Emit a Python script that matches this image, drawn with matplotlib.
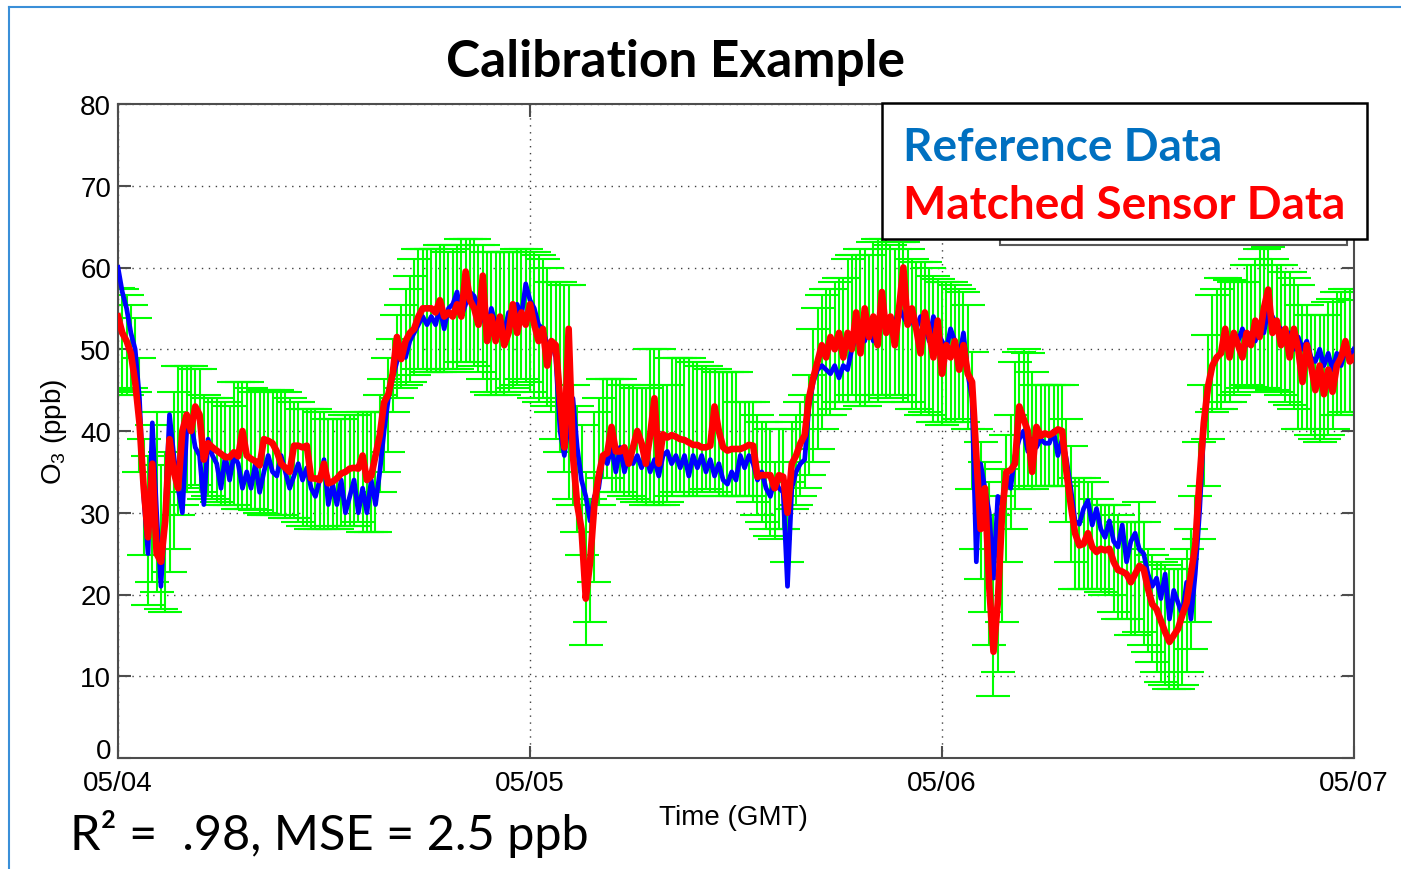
import numpy as np
import matplotlib
matplotlib.use('Agg')
import matplotlib.pyplot as plt
from matplotlib.patches import Rectangle
from matplotlib.lines import Line2D

# 15-minute samples, 05/04 00:00 -> 05/07 00:00 (GMT), in hours
hours = np.arange(0, 72.01, 0.25)
day_ticks = [0, 24, 48, 72]
day_labels = ['05/04', '05/05', '05/06', '05/07']

# reference O3 (ppb)
ref_o3 = [60, 57, 55, 52, 50, 44, 32, 25, 41, 30, 21, 30,
          42, 37, 33, 30, 40, 41, 38, 37, 31, 39, 37, 36,
          33, 37, 34, 37, 36, 33, 35, 33, 36, 32.5, 35, 37,
          35, 34.5, 37, 35, 33, 34.5, 36, 34, 35.5, 33, 32, 34,
          36.5, 31, 33.5, 31, 34, 30, 32, 34, 30, 33, 30, 34,
          31, 35, 40, 44, 46.5, 48.5, 50, 49, 51, 52, 53, 54,
          53, 54, 53, 55, 52.5, 55, 55.5, 57, 54, 55.5, 57, 56.5,
          55, 54, 52.5, 55, 53, 54, 52, 54.5, 53, 55.5, 54, 58,
          56, 55, 53, 52.5, 50.5, 51, 49, 40, 37, 41, 44, 38,
          34, 32, 29, 32, 33, 37, 36, 38, 35, 38, 35, 37,
          36, 37, 35.5, 37, 35, 36.5, 34.5, 37, 37.5, 36, 37, 35.5,
          37, 34.5, 37, 35.5, 37, 35, 36.5, 34.5, 36, 34, 33.5, 35,
          34, 37, 35.5, 37, 36, 34, 35, 33, 32, 34, 33, 32.5,
          21, 33, 35, 36, 36.5, 43, 46, 47.5, 48, 47.5, 47, 48,
          46.5, 48, 47.5, 50, 51.5, 53, 51, 53, 51, 53.5, 55, 52,
          54, 53, 55, 54, 53, 53.5, 52.5, 54, 53, 51, 54, 52,
          51, 50, 52.5, 51, 49, 52, 47, 44, 24, 36, 33, 30,
          22, 32, 31, 35, 33, 37, 39, 40, 37.5, 39, 38, 39,
          38.5, 38.5, 40, 37, 39, 36.5, 33, 29, 28.6, 30.5, 31.5, 28.5,
          30.5, 28, 27, 29, 26.5, 25.8, 28.5, 24, 26.5, 27.5, 25.5, 25,
          22.5, 21, 22, 19.5, 22.5, 17, 20.5, 19, 17.5, 21.5, 17, 22.5,
          30, 40, 45, 48, 49, 49.5, 51, 50, 52, 51, 52.5, 50.5,
          52, 51, 53, 52, 55, 54, 53, 52.5, 51, 52, 50, 51.5,
          50, 51, 49, 48.5, 50, 48, 49.5, 47.5, 49.5, 48, 50, 48.5,
          50]

# matched sensor O3 (ppb)
sensor_o3 = [54, 52, 51, 49.5, 46, 41, 33, 27, 36, 25, 24, 29,
             39, 35, 33, 40, 42, 40, 43, 42, 36.5, 38.5, 38, 37.6,
             37.2, 36.8, 36.8, 37.4, 36.9, 40, 37, 36.6, 36.3, 35.8, 39, 38.8,
             38.5, 37.5, 36, 35.5, 35, 38.2, 38.2, 38, 38.2, 34.2, 34.2, 34,
             36, 33.6, 33.8, 34.2, 34.8, 35, 35.4, 35.5, 35.4, 37, 34, 34.5,
             37, 39.5, 43.5, 44.5, 47, 51.5, 48.8, 51, 52, 52.5, 54, 55,
             55, 55, 54.5, 56, 54, 54.5, 54, 55.5, 54, 59.5, 56, 55,
             53, 59, 51, 54, 51, 54, 50.5, 52, 55.5, 52, 54.5, 53,
             55.5, 53, 51, 52.5, 48, 51, 50.5, 44, 38, 52.5, 37, 31,
             28, 19.5, 24, 31, 34.5, 37, 37.3, 40.5, 37.5, 37.5, 38, 36,
             38, 40, 38.5, 36, 39.5, 44, 36, 39.6, 39.2, 39.5, 39.3, 39,
             38.9, 38.6, 38.3, 38.3, 38, 38, 38.2, 43, 40, 38, 37.6, 37.8,
             37.8, 37.8, 38, 38.3, 38.2, 34.4, 34.6, 34.6, 34.6, 33, 34.6, 34.4,
             30, 36, 37, 38.5, 39.5, 44, 46.5, 48.5, 50.5, 49, 51.5, 50,
             52, 49, 52, 50, 54.5, 49.5, 55, 51.5, 54, 50.5, 57, 52,
             54, 50.5, 55, 60, 53, 55, 52.5, 49.5, 54.5, 52, 49, 53.5,
             47, 50.5, 49, 51, 47.5, 50.5, 47, 46, 37, 28, 33, 21,
             13, 19, 30, 35, 35.2, 36, 43, 41.5, 40, 35, 40.5, 39.4,
             39.7, 39.5, 39.8, 40.2, 40, 35, 31, 27.5, 26, 26.2, 27.5, 25.8,
             25.2, 25.6, 25.4, 25.6, 24, 23, 22.8, 22.5, 21.5, 22.5, 23.5, 23.1,
             20.7, 18.8, 18.2, 16.8, 15.4, 14.2, 15, 15.8, 17.5, 19, 22.5, 26,
             34, 41, 45.5, 48, 49, 49.5, 52.5, 49, 52, 50.5, 49, 52,
             50.5, 53.5, 51.5, 55, 57.3, 52, 53.5, 50.5, 52.5, 49, 52.5, 50,
             46, 50.5, 48, 45, 48, 44.5, 47.5, 44.8, 48, 49, 51, 48.5,
             49]

# bottom / top of each sensor error bar (ppb)
band_low = [45, 44.4, 44.4, 45.2, 44.8, 35, 24.8, 18.7, 21.5, 20.3, 18.2, 17.8,
            22.7, 25.6, 29.7, 30.9, 32.5, 33, 33.4, 32.5, 31.7, 32, 31.7, 31.3,
            30.9, 30.9, 30.9, 30.9, 30.5, 30.5, 30.5, 30.5, 30.3, 30, 29.7, 29.7,
            29.7, 29.7, 29.7, 29.3, 29.3, 29.3, 28.9, 28.4, 28.4, 28, 28, 28,
            28, 28, 28, 28, 28.4, 28.4, 28.4, 28.4, 28.9, 27.6, 27.6, 27.6,
            27.6, 32.5, 35, 37.4, 42.3, 44, 45.2, 45.6, 46, 46.8, 47.6, 47.6,
            47.2, 47.2, 47.2, 47.2, 47.2, 47.6, 47.6, 47.6, 48.4, 48.4, 48.4, 48,
            47.2, 46.4, 44.8, 44.4, 44.4, 44.8, 44.4, 44.8, 45.2, 45.6, 46.4, 46,
            44.8, 44, 43.6, 44, 43.1, 42.3, 39, 37.4, 35, 31.7, 30.9, 27.6,
            24.8, 13.8, 16.6, 21.5, 30.9, 34.2, 34.2, 32.5, 32.5, 32.5, 32.1, 32.1,
            31.7, 31.3, 31.3, 30.9, 31.3, 30.9, 30.9, 30.9, 31.3, 32.1, 32.5, 32.5,
            32.1, 32.1, 32.1, 32.1, 32.5, 32.9, 32.5, 32.5, 32.1, 32.1, 32.1, 32.1,
            32.1, 32.1, 32.1, 32.1, 31.3, 29.7, 28.9, 28, 27.2, 26.8, 28, 28,
            24, 30.5, 30.9, 32, 33, 34.6, 36.2, 37.8, 40.3, 41.9, 41.9, 42.7,
            43.6, 43.6, 43.6, 44.4, 43.6, 43.1, 43.1, 43.6, 44.4, 43.6, 44.4, 44,
            44, 44.4, 44.4, 43.6, 43.6, 42.7, 42.7, 41.9, 42.3, 41.9, 41.1, 41.1,
            40.7, 41.1, 41.1, 41.1, 41.5, 41.1, 40.3, 32.9, 25.6, 21.9, 17.8, 13.8,
            7.6, 10.5, 16.6, 24, 28, 30.5, 32.9, 32.9, 33.3, 32.9, 33.3, 33.3,
            33.3, 33.3, 33.3, 33.3, 33.3, 28.9, 24, 20.7, 20.7, 20.7, 20.7, 20.7,
            20.7, 20.3, 19.9, 19.9, 17.8, 17, 17, 17, 15, 15, 15.4, 13.8,
            13, 11.7, 10.5, 9.3, 8.9, 8.5, 8.5, 8.5, 8.9, 10.5, 13.3, 16.6,
            26.8, 33.3, 39, 42.3, 42.7, 42.7, 43.6, 43.6, 44.4, 44.8, 45.2, 45.6,
            45.4, 45.2, 45.2, 45.2, 44.8, 45, 44.8, 44.4, 43.6, 43.2, 42.7, 40.3,
            40.3, 40.3, 39.5, 39, 38.7, 39, 39.5, 40.3, 41.9, 41.9, 42.3, 42.3,
            42.3]
band_high = [57.5, 57.4, 56.6, 55.4, 53.8, 48.9, 39, 37, 40.7, 42.3, 35.8, 37.4,
             42.3, 44.8, 48, 48, 48, 48, 47.6, 47.6, 44.4, 44, 44, 44,
             43.5, 43.5, 43.1, 46, 46, 46, 46, 45.2, 44.8, 44.8, 45, 45,
             45, 45, 44.8, 44.8, 44, 43.5, 43.5, 42.7, 42.7, 42.7, 42.7, 42.3,
             42.3, 41.5, 41.5, 41.5, 41.5, 41.9, 41.9, 41.9, 42.3, 42.3, 42.3, 42.3,
             42.3, 44.4, 46.4, 48.9, 51.3, 54.2, 55.4, 57.4, 59, 61, 62.3, 62.3,
             62.3, 62.3, 62.3, 62.7, 62.7, 61.9, 62.3, 62.7, 63.5, 63.5, 63.5, 63.5,
             62.7, 62.7, 61.9, 61.9, 61.9, 61.9, 61.9, 61.9, 61.9, 62.3, 62.3, 62.3,
             61.9, 61.9, 61.5, 61.1, 59.9, 58.2, 58.2, 58.2, 57.8, 57.8, 45.6, 43.1,
             40.7, 35, 31.7, 42.3, 44, 46.4, 46.4, 46.4, 46.4, 46.4, 45.6, 45.6,
             45.6, 45.2, 45.2, 45.2, 50, 50, 50, 45.6, 45.6, 48.9, 48.9, 48.9,
             48.9, 48.9, 48.5, 48.5, 48, 48, 47.6, 47.6, 47.2, 47.2, 47.2, 47.2,
             47.2, 43.6, 43.6, 43.6, 43.6, 41.9, 41.1, 41.1, 40.3, 36.2, 40.3, 40.3,
             33.8, 41.1, 41.9, 43.6, 44.4, 46.8, 52.5, 55, 56.6, 57.4, 57.4, 58.2,
             58.7, 58.7, 61.1, 61.5, 61.5, 62.3, 62.3, 61.5, 63.1, 63.5, 63.5, 63.5,
             62.7, 62.3, 63.1, 63.1, 62.3, 61.1, 60.7, 60.7, 60.7, 59.9, 59, 58.6,
             58.2, 58.2, 58.2, 57.8, 57.4, 57, 55.4, 49.7, 40.3, 38.7, 36.2, 33.8,
             29.7, 32.1, 35.4, 39.5, 41.9, 48.4, 49.7, 50, 49.5, 47.2, 45.6, 45.6,
             45.6, 45.6, 45.6, 45.6, 45.6, 41.5, 38.2, 34.2, 34.2, 34.2, 33.8, 33.8,
             31.7, 30.9, 30.9, 30.9, 30.9, 29.7, 28.9, 28.9, 28.9, 28.9, 31.3, 28.9,
             25.6, 24.8, 24, 24, 23.6, 23.1, 23.1, 23.1, 24.4, 25.6, 28, 32.1,
             38.7, 45.6, 51.7, 56.6, 57.4, 58.7, 58.7, 58.5, 58.2, 58.2, 58.2, 60.3,
             60.3, 61.1, 62.3, 62.3, 62.5, 61.1, 60.3, 60.3, 59.5, 59.5, 58.7, 57.8,
             55.4, 55.4, 54.2, 54.2, 54.2, 54.2, 55.8, 56.2, 57, 57, 57.4, 57.4,
             56]

axis_font = 'Liberation Sans'
slide_font = 'Lato'
plt.rcParams['mathtext.fontset'] = 'custom'
plt.rcParams['mathtext.rm'] = axis_font

W, H = 1401, 870
fig = plt.figure(figsize=(W / 100, H / 100), dpi=100)
ax = fig.add_axes([118 / W, 1 - 759 / H, (1354 - 118) / W, (759 - 105) / H])

sensor = np.array(sensor_o3)
lo = np.clip(sensor - np.array(band_low), 0, None)
hi = np.clip(np.array(band_high) - sensor, 0, None)

ax.errorbar(hours, sensor, yerr=[lo, hi], fmt='none', ecolor='#00ff00',
            elinewidth=1.5, capsize=12, capthick=1.5, zorder=2)
ax.plot(hours, ref_o3, color='#0000ff', lw=3.4, zorder=3)
ax.plot(hours, sensor_o3, color='#ff0000', lw=4.8, zorder=4)

ax.set_xlim(0, 72)
ax.set_ylim(0, 80)
ax.set_xticks(day_ticks)
ax.set_xticklabels(day_labels)
ax.set_yticks(range(0, 81, 10))
ax.set_axisbelow(True)
ax.grid(True, linestyle=(0, (1, 4)), color='0.25', linewidth=1.0)
ax.tick_params(direction='in', length=9, width=1.5, top=True, right=True,
               color='0.3', labelsize=20)
ax.tick_params(axis='x', pad=9)
ax.tick_params(axis='y', pad=5)
for lab in ax.get_xticklabels() + ax.get_yticklabels():
    lab.set_family(axis_font)
# the "0" sits on the axis corner; lift it so it doesn't collide with 05/04
ax.get_yticklabels()[0].set_va('baseline')
for sp in ax.spines.values():
    sp.set_linewidth(1.5)
    sp.set_color('0.3')

ax.set_xlabel('Time (GMT)', fontsize=20, family=axis_font)
ax.xaxis.set_label_coords((733 - 118) / 1236, (759 - 818) / 654)
ax.xaxis.label.set_va('center')
ax.set_ylabel(r'O$_\mathregular{3}$ (ppb)', fontsize=20, family=axis_font)
ax.yaxis.set_label_coords((54 - 118) / 1236, 0.5)
ax.yaxis.label.set_va('center')

fig.text(675 / W, 1 - 77 / H, 'Calibration Example', ha='center', va='baseline',
         fontsize=37, fontweight='bold', family=slide_font)

# legend boxes (old one peeking out behind the text box)
fig.add_artist(Rectangle((1000 / W, 1 - 246 / H), 347 / W, 96 / H, transform=fig.transFigure,
                         facecolor='white', edgecolor='0.35', lw=1.5, zorder=5))
fig.add_artist(Rectangle((882 / W, 1 - 240 / H), 485 / W, 136 / H, transform=fig.transFigure,
                         facecolor='white', edgecolor='black', lw=1.8, zorder=6))
fig.text(903 / W, 1 - 161 / H, 'Reference Data', color='#0070c0', fontsize=33,
         fontweight='bold', family=slide_font, va='baseline', zorder=7)
fig.text(903 / W, 1 - 219 / H, 'Matched Sensor Data', color='#ff0000', fontsize=33,
         fontweight='bold', family=slide_font, va='baseline', zorder=7)

fig.text(70 / W, 1 - 850 / H, 'R² =  .98, MSE = 2.5 ppb', fontsize=35,
         family=slide_font, va='baseline')

# slide frame
fig.add_artist(Line2D([9 / W, 9 / W], [0, 1 - 8 / H], color='#3a8fd8', lw=1.5,
                      transform=fig.transFigure))
fig.add_artist(Line2D([9 / W, 1], [1 - 8 / H, 1 - 8 / H], color='#3a8fd8', lw=1.5,
                      transform=fig.transFigure))

fig.savefig('out.png', dpi=100)
